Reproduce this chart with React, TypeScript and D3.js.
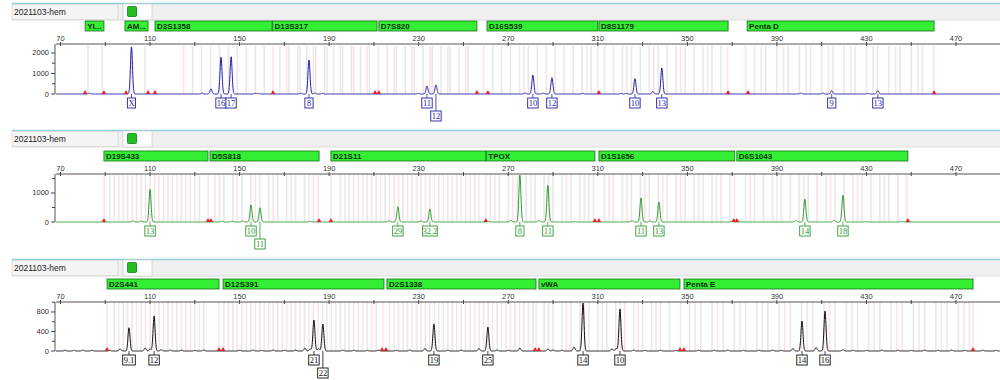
import React from "react";
import * as d3 from "d3";

// ---------- DATA ----------
const sampleName = "2021103-hem";
const xTickLabels = [70, 110, 150, 190, 230, 270, 310, 350, 390, 430, 470];
const xMinorTicks = [90, 130, 170, 210, 250, 290, 330, 370, 410, 450, 490];

// markers: [name, startBp, endBp]
const markers1: [string, number, number][] = [
  ["YI...", 81, 89.4], ["AM...", 98.8, 109.1], ["D3S1358", 112.2, 164.5], ["D13S317", 164.7, 211.4],
  ["D7S820", 212.2, 256], ["D16S539", 260.5, 310], ["D8S1179", 310.5, 368.2], ["Penta D", 376.7, 460.2],
];
const markers2: [string, number, number][] = [
  ["D19S433", 89.4, 135.9], ["D5S818", 136.8, 185.5], ["D21S11", 190.8, 260], ["TPOX", 260.2, 308.7],
  ["D1S1656", 310.5, 371.2], ["D6S1043", 372.1, 448.5],
];
const markers3: [string, number, number][] = [
  ["D2S441", 90.8, 140.8], ["D12S391", 142.6, 214.5], ["D2S1338", 215.8, 282.4], ["vWA", 283.7, 346.7],
  ["Penta E", 348.5, 477.6],
];

// called alleles: [label, bp, height RFU]
const alleles1: [string, number, number][] = [
  ["X", 101.7, 2290], ["16", 141.7, 1800], ["17", 146.2, 1820], ["8", 181.0, 1660],
  ["11", 233.7, 390], ["12", 237.7, 440], ["10", 281.0, 930], ["12", 289.5, 800],
  ["10", 326.6, 750], ["13", 338.6, 1270], ["9", 414.5, 160], ["13", 435.1, 160],
];
const alleles2: [string, number, number][] = [
  ["13", 110.0, 1130], ["10", 155.1, 590], ["11", 159.1, 490], ["29", 220.7, 530],
  ["32.2", 235.0, 450], ["8", 275.2, 1620], ["11", 287.7, 1270], ["11", 329.3, 830],
  ["13", 337.3, 690], ["14", 402.5, 790], ["18", 419.5, 930],
];
const alleles3: [string, number, number][] = [
  ["9.1", 100.6, 478], ["12", 111.8, 718], ["21", 183.2, 636], ["22", 187.2, 554],
  ["19", 236.8, 554], ["25", 260.9, 492], ["14", 303.4, 985], ["10", 319.9, 862],
  ["14", 401.2, 615], ["16", 411.5, 820],
];

// small unlabelled peaks / stutter / noise: [bp, height]
const minor1: [number, number][] = [
  [83, 40], [133.2, 40], [137.2, 250], [157, 30], [158.2, 30], [177.2, 35], [183.5, 40], [187, 30],
  [229.7, 30], [277.4, 45], [285.5, 40], [303.4, 30], [320.3, 25], [322.5, 25], [334.6, 120],
  [400.7, 40], [410.5, 45], [430.6, 30],
];
const minor2: [number, number][] = [
  [102.4, 35], [106, 25], [142.1, 25], [146.6, 25], [151.3, 40], [181.4, 20], [216.7, 40], [231, 30],
  [261, 15], [271.2, 60], [283.7, 50], [300, 15], [325.3, 50], [333.3, 40], [370, 15], [398.5, 50],
  [415.5, 60], [430, 15], [445.8, 20],
];
const minor3: [number, number][] = [
  [96.6, 40], [107.8, 60], [110, 40], [179.2, 60], [181.5, 40], [185.3, 50], [232.8, 50], [256.9, 50],
  [275.2, 60], [287.7, 40], [299.4, 80], [316.3, 45], [318.2, 50], [397.2, 50], [407.5, 70], [419.5, 25],
  [72, 15], [76, 12], [80, 18], [84, 15], [92, 12], [115, 25], [119, 18], [124, 15], [130, 12],
  [134, 18], [150, 15], [156, 20], [160, 12], [165, 18], [170, 15], [175, 20], [196, 18], [201, 15],
  [207, 12], [212, 18], [220, 15], [226, 20], [243, 15], [249, 18], [265, 20], [270, 15], [290, 18],
  [294, 15], [326, 18], [331, 12], [338, 15], [345, 12], [355, 18], [362, 15], [368, 20], [375, 12],
  [382, 15], [388, 18], [392, 12], [424, 15], [430, 12], [437, 18], [444, 15], [450, 12], [456, 18],
  [462, 15], [468, 20], [474, 12], [482, 15], [488, 12],
];

// size-standard (red) markers on the baseline, bp
const red1 = [81, 89.4, 99.3, 109.1, 112.2, 164.9, 210.5, 212.2, 256, 260.9, 310.5, 368.2, 377.1, 460.2];
const red2 = [89.4, 135.9, 137.2, 185.5, 190.8, 260, 308.7, 310.5, 370.7, 372.1, 448.5];
const red3 = [90.8, 140.8, 142.6, 213.6, 215.4, 282, 283.7, 346.7, 348.5, 477.6];

// allele bins: ladders [startBp, endBp, stepBp]
const gray1: [number, number, number][] = [
  [82.3, 82.3, 1], [88.6, 88.6, 1], [101.7, 101.7, 1], [107.7, 107.7, 1], [129, 161, 4], [168, 208, 4],
  [216, 252, 4], [263, 307, 4], [313, 365, 4], [380, 455, 5],
];
const pink1: [number, number, number][] = [
  [125, 125, 1], [165, 165, 1], [171, 207, 6], [212, 212, 1], [219, 251, 8], [259, 259, 1],
  [277, 305, 14], [310, 310, 1], [323, 359, 12], [368, 376, 8], [383, 453, 10], [460, 460, 1],
];
const gray2: [number, number, number][] = [
  [92, 134, 4], [139, 183, 4], [195, 258, 4], [262, 306, 4], [313, 369, 4], [376, 446, 4],
];
const pink2: [number, number, number][] = [
  [94, 132, 4], [141, 181, 8], [197, 257, 4], [264, 304, 8], [315, 367, 8], [378, 444, 6],
  [89.5, 89.5, 1], [136, 136, 1], [185, 185, 1], [190.8, 190.8, 1], [260, 260, 1], [308, 308, 1],
  [371, 371, 1], [448, 448, 1],
];
const gray3: [number, number, number][] = [
  [94, 134, 4], [143, 211, 4], [217, 281, 4], [286, 342, 4], [351, 476, 5],
];
const pink3: [number, number, number][] = [
  [96, 132, 4], [145, 209, 4], [219, 279, 4], [288, 340, 8], [353.5, 473.5, 10], [90.8, 90.8, 1],
  [140.8, 140.8, 1], [214, 214, 1], [282.5, 282.5, 1], [347, 347, 1], [477.6, 477.6, 1],
];

// ---------- LAYOUT ----------
const W = 1000;
const H = 380;
const x = d3.scaleLinear().domain([70, 470]).range([60.5, 956]);
const bpMin = x.invert(56);
const bpMax = x.invert(1000);

const panels = [
  { top: 3, barY: 21, axisY: 44, plotTop: 46, base: 94, yMax: 2340, major: [0, 1000, 2000], minorT: [500, 1500],
    color: "#1f1fa6", markers: markers1, alleles: alleles1, minor: minor1, red: red1, gray: gray1, pink: pink1 },
  { top: 130, barY: 151, axisY: 174, plotTop: 175, base: 222, yMax: 1620, major: [0, 1000], minorT: [500, 1500],
    color: "#2f9a2f", markers: markers2, alleles: alleles2, minor: minor2, red: red2, gray: gray2, pink: pink2 },
  { top: 259, barY: 279, axisY: 302, plotTop: 302, base: 351, yMax: 1005, major: [0, 400, 800], minorT: [200, 600, 1000],
    color: "#111111", markers: markers3, alleles: alleles3, minor: minor3, red: red3, gray: gray3, pink: pink3 },
];

const SIG = 0.45;
const samples = d3.range(bpMin, bpMax, 0.08);

function ladder(l: [number, number, number][]) {
  const out: number[] = [];
  l.forEach(([a, b, s]) => d3.range(a, b + 0.001, s).forEach((v) => out.push(v)));
  return out;
}

const sans = "'Liberation Sans', Arial, sans-serif";
const serif = "'Liberation Serif', 'Times New Roman', serif";

function Panel({ p }: { p: (typeof panels)[number] }) {
  const y = d3.scaleLinear().domain([0, p.yMax]).range([p.base, p.plotTop]);
  const peaks: [number, number][] = [
    ...p.alleles.map((a) => [a[1], a[2]] as [number, number]),
    ...p.minor,
  ];
  const sig = samples.map((b) => {
    let v = 0;
    for (const [c, h] of peaks) {
      const d = b - c;
      if (Math.abs(d) < 4 * SIG) v += h * Math.exp(-(d * d) / (2 * SIG * SIG));
    }
    return [b, v] as [number, number];
  });
  const line = d3.line<[number, number]>().x((d) => x(d[0])).y((d) => y(d[1]));

  // label rows
  let prevX = -100;
  let prevRow = 2;
  const labels = p.alleles.map(([lab, bp]) => {
    const cx = x(bp);
    const w = 6 + 2.2 * lab.length;
    let row = 1;
    if (cx - prevX < 9.5 && prevRow === 1) row = 2;
    prevX = cx;
    prevRow = row;
    return { lab, cx, w, row };
  });

  const grayBins = ladder(p.gray);
  const pinkBins = ladder(p.pink);

  return (
    <g>
      {/* header strip */}
      <rect x={12} y={p.top} width={988} height={17} fill="#efefef" />
      <line x1={12} x2={1000} y1={p.top + 0.5} y2={p.top + 0.5} stroke="#92d2da" strokeWidth={1.5} />
      <line x1={12} x2={1000} y1={p.top + 17} y2={p.top + 17} stroke="#dcdcdc" strokeWidth={1} />
      <rect x={12} y={p.top + 1.5} width={106} height={15} fill="#f4f4f4" stroke="#d8d8d8" strokeWidth={0.8} />
      <text x={14} y={p.top + 12} fontFamily={sans} fontSize={8.5} fill="#222">{sampleName}</text>
      <rect x={123} y={p.top + 1} width={29} height={16} fill="#ffffff" stroke="#cfcfcf" strokeWidth={0.8} />
      <rect x={127.5} y={p.top + 3.5} width={9} height={10} fill="#22c022" stroke="#157a15" strokeWidth={0.8} rx={1} />

      {/* marker bars */}
      {p.markers.map(([name, a, b]) => (
        <g key={name}>
          <rect x={x(a)} y={p.barY} width={x(b) - x(a)} height={10} fill="#33ee33" stroke="#1d6b1d" strokeWidth={0.8} />
          <text x={x(a) + 2} y={p.barY + 8} fontFamily={sans} fontSize={8} fontWeight="bold" fill="#0b2e0b">{name}</text>
        </g>
      ))}

      {/* bins */}
      {grayBins.map((b, i) => (
        <rect key={"g" + i} x={x(b) - 0.8} y={p.plotTop} width={1.6} height={p.base - p.plotTop} fill="#e8e8e8" />
      ))}
      {pinkBins.map((b, i) => (
        <rect key={"p" + i} x={x(b) - 0.8} y={p.plotTop} width={1.6} height={p.base - p.plotTop} fill="#fce4e4" />
      ))}

      {/* x axis */}
      <line x1={56} x2={1000} y1={p.axisY} y2={p.axisY} stroke="#555" strokeWidth={1} />
      {xTickLabels.map((t) => (
        <g key={"t" + t}>
          <line x1={x(t)} x2={x(t)} y1={p.axisY - 2} y2={p.axisY + 2} stroke="#444" />
          <text x={x(t)} y={p.axisY - 3.5} textAnchor="middle" fontFamily={sans} fontSize={7.5} fill="#333">{t}</text>
        </g>
      ))}
      {xMinorTicks.map((t) => (
        <line key={"m" + t} x1={x(t)} x2={x(t)} y1={p.axisY - 2} y2={p.axisY + 2} stroke="#444" />
      ))}

      {/* y axis */}
      <line x1={55} x2={55} y1={p.axisY} y2={p.base} stroke="#555" strokeWidth={1} />
      {p.major.map((t) => (
        <g key={"y" + t}>
          <line x1={51} x2={55} y1={y(t)} y2={y(t)} stroke="#444" />
          <text x={49} y={y(t) + 2.5} textAnchor="end" fontFamily={sans} fontSize={7.5} fill="#333">{t}</text>
        </g>
      ))}
      {p.minorT.map((t) => (
        <line key={"ym" + t} x1={52} x2={55} y1={y(t)} y2={y(t)} stroke="#444" />
      ))}

      {/* trace */}
      <path d={line(sig) || ""} fill="none" stroke={p.color} strokeWidth={1} />

      {/* red size-standard markers */}
      {p.red.map((b, i) => {
        const cx = x(b);
        return <path key={"r" + i} d={`M${cx - 2.3},${p.base}L${cx + 2.3},${p.base}L${cx},${p.base - 4}Z`} fill="#e8242a" />;
      })}

      {/* allele labels */}
      {labels.map((l, i) => {
        const top = p.base + (l.row === 1 ? 4 : 17);
        return (
          <g key={"l" + i}>
            <line x1={l.cx} x2={l.cx} y1={p.base} y2={top} stroke={p.color} strokeWidth={0.8} />
            <rect x={l.cx - l.w / 2} y={top} width={l.w} height={10} fill="#fff" stroke={p.color} strokeWidth={0.9} />
            <text x={l.cx} y={top + 8} textAnchor="middle" fontFamily={serif} fontSize={8.5} fill={p.color}>{l.lab}</text>
          </g>
        );
      })}
    </g>
  );
}

export default function App() {
  return (
    <svg width={W} height={H} viewBox={`0 0 ${W} ${H}`} style={{ position: "absolute", left: 0, top: 0, background: "#fff" }}>
      <rect width={W} height={H} fill="#fff" />
      {panels.map((p, i) => (
        <Panel key={i} p={p} />
      ))}
    </svg>
  );
}
